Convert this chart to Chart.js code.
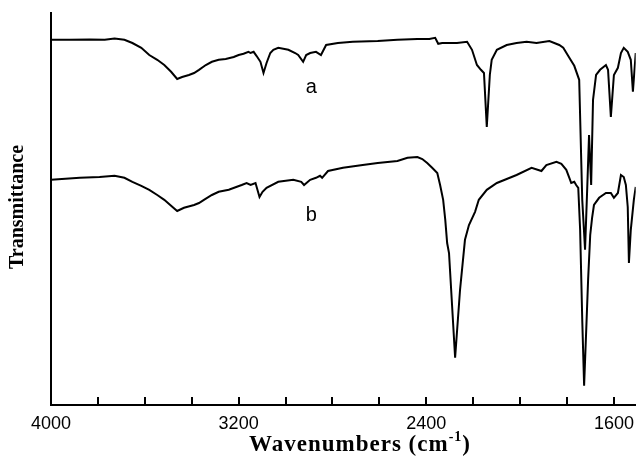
<!DOCTYPE html>
<html>
<head>
<meta charset="utf-8">
<script src="https://cdn.jsdelivr.net/npm/chart.js@4.4.1/dist/chart.umd.min.js"></script>
<style>
    html, body { margin: 0; padding: 0; background: #fff; }
    #wrap { width: 642px; height: 462px; }
</style>
</head>
<body>
<div id="wrap"><canvas id="irChart"></canvas></div>
<script>
// spectrum a
const wavenumbersA = [4000, 3920, 3835, 3771, 3729, 3687, 3653, 3615, 3581, 3547, 3517, 3488, 3462, 3441, 3412, 3390,
    3369, 3340, 3314, 3285, 3255, 3221, 3200, 3179, 3158, 3149, 3136, 3124, 3107, 3094, 3081, 3065, 3052, 3031,
    2988, 2959, 2946, 2925, 2912, 2895, 2870, 2849, 2827, 2777, 2713, 2607, 2523, 2438, 2387, 2362, 2349, 2332,
    2269, 2226, 2205, 2184, 2167, 2154, 2142, 2129, 2121, 2099, 2057, 2015, 1972, 1930, 1875, 1833, 1816, 1790,
    1769, 1748, 1735, 1723, 1714, 1706, 1697, 1689, 1676, 1659, 1634, 1625, 1613, 1600, 1583, 1570, 1558, 1541,
    1528, 1519, 1507];
const transmittanceA = [91.3, 91.3, 91.4, 91.3, 91.6, 91.3, 90.5, 89.3, 87.5, 86.3, 85.0, 83.3, 81.5, 82.0, 82.5, 83.0,
    83.8, 85.0, 85.8, 86.3, 86.5, 87.0, 87.5, 87.8, 88.3, 88.0, 88.3, 87.3, 85.8, 83.0, 85.5, 88.0, 88.8, 89.3,
    88.8, 88.0, 87.5, 85.8, 87.5, 88.0, 88.3, 87.5, 90.0, 90.5, 90.8, 91.0, 91.3, 91.5, 91.5, 91.8, 90.3, 90.5,
    90.5, 90.8, 88.8, 85.0, 83.8, 83.0, 69.5, 82.5, 86.3, 88.8, 90.0, 90.5, 90.8, 90.5, 91.0, 90.0, 89.3, 86.8,
    84.8, 81.3, 51.3, 38.8, 53.8, 67.5, 55.0, 76.3, 82.5, 83.8, 85.0, 83.8, 72.0, 82.5, 84.3, 88.0, 89.3, 88.3,
    86.3, 78.3, 88.0];

// spectrum b
const wavenumbersB = [4000, 3877, 3793, 3729, 3687, 3653, 3615, 3581, 3547, 3517, 3488, 3462, 3433, 3390, 3369, 3348,
    3314, 3285, 3242, 3187, 3166, 3149, 3128, 3111, 3098, 3081, 3031, 2967, 2933, 2921, 2895, 2870, 2853, 2844,
    2819, 2755, 2671, 2607, 2523, 2480, 2438, 2417, 2396, 2375, 2353, 2341, 2328, 2319, 2311, 2303, 2277, 2256,
    2235, 2218, 2192, 2176, 2142, 2099, 2057, 2015, 1951, 1909, 1888, 1845, 1824, 1803, 1790, 1782, 1769, 1761,
    1752, 1744, 1735, 1727, 1718, 1710, 1701, 1693, 1685, 1663, 1634, 1613, 1600, 1583, 1570, 1558, 1549, 1541,
    1536, 1528, 1515, 1507];
const transmittanceB = [56.3, 56.8, 57.0, 57.3, 56.8, 55.8, 54.8, 53.8, 52.5, 51.3, 49.8, 48.5, 49.3, 50.0, 50.5, 51.3,
    52.5, 53.3, 53.8, 55.0, 55.5, 55.0, 55.5, 52.0, 53.3, 54.3, 55.8, 56.3, 55.8, 55.0, 56.3, 56.8, 57.3, 56.8,
    58.5, 59.3, 60.0, 60.5, 61.0, 61.8, 62.0, 61.5, 60.5, 59.3, 58.0, 55.0, 51.3, 46.3, 40.5, 38.0, 11.8, 28.8,
    41.3, 45.0, 48.3, 51.3, 53.8, 55.5, 56.5, 57.5, 59.3, 58.5, 60.0, 60.8, 60.3, 58.8, 56.8, 55.5, 55.8, 55.0,
    54.3, 43.8, 21.3, 4.8, 18.8, 31.3, 42.5, 46.8, 50.0, 51.8, 53.0, 53.0, 51.8, 53.0, 57.5, 57.0, 55.0, 49.5,
    35.5, 43.8, 51.3, 54.5];

const xTickValues = [4000, 3800, 3600, 3400, 3200, 3000, 2800, 2600, 2400, 2200, 2000, 1800, 1600];
const xTickLabels = ['4000', '', '', '', '3200', '', '', '', '2400', '', '', '', '1600'];

const traceNames = ['a', 'b'];
const traceNameX = [2890, 2890];
const traceNameY = [79.3, 47.5];

const toPoints = (xs, ys) => xs.map((x, i) => ({x: x, y: ys[i]}));

// inward tick marks, trace names and axis titles
const decorations = {
    id: 'decorations',
    afterDraw(chart) {
        const {ctx, chartArea, scales} = chart;
        const xs = scales.x, ys = scales.y;
        ctx.save();
        ctx.strokeStyle = '#000';
        ctx.lineWidth = 2;
        xTickValues.forEach(v => {
            const px = Math.round(xs.getPixelForValue(v));
            ctx.beginPath();
            ctx.moveTo(px, chartArea.bottom);
            ctx.lineTo(px, chartArea.bottom - 8);
            ctx.stroke();
        });

        ctx.fillStyle = '#000';
        ctx.font = '20px "Liberation Sans"';
        ctx.textAlign = 'center';
        ctx.textBaseline = 'middle';
        traceNames.forEach((name, i) => {
            ctx.fillText(name, xs.getPixelForValue(traceNameX[i]), ys.getPixelForValue(traceNameY[i]));
        });

        // y title
        ctx.save();
        ctx.translate(18, (chartArea.top + chartArea.bottom) / 2 - 2);
        ctx.rotate(-Math.PI / 2);
        ctx.font = 'bold 20px "Liberation Serif"';
        ctx.fillText('Transmittance', 0, 0);
        ctx.restore();

        // x title with superscript
        const main = 'Wavenumbers (cm';
        const sup = '-1';
        const close = ')';
        ctx.textBaseline = 'alphabetic';
        ctx.textAlign = 'left';
        ctx.letterSpacing = '1px';
        ctx.font = 'bold 23px "Liberation Serif"';
        const wMain = ctx.measureText(main).width;
        const wClose = ctx.measureText(close).width;
        ctx.font = 'bold 14px "Liberation Serif"';
        const wSup = ctx.measureText(sup).width;
        let x0 = 360 - (wMain + wSup + wClose) / 2;
        const base = 451;
        ctx.font = 'bold 23px "Liberation Serif"';
        ctx.fillText(main, x0, base);
        ctx.font = 'bold 14px "Liberation Serif"';
        ctx.fillText(sup, x0 + wMain, base - 10);
        ctx.font = 'bold 23px "Liberation Serif"';
        ctx.fillText(close, x0 + wMain + wSup, base);
        ctx.restore();
    }
};

const ctx = document.getElementById('irChart').getContext('2d');
const chart = new Chart(ctx, {
    type: 'line',
    data: {
        datasets: [{
            label: 'a',
            data: toPoints(wavenumbersA, transmittanceA),
            borderColor: '#000',
            borderWidth: 2,
            pointRadius: 0,
            tension: 0,
            fill: false
        }, {
            label: 'b',
            data: toPoints(wavenumbersB, transmittanceB),
            borderColor: '#000',
            borderWidth: 2,
            pointRadius: 0,
            tension: 0,
            fill: false
        }]
    },
    options: {
        responsive: true,
        maintainAspectRatio: false,
        animation: false,
        layout: {padding: {top: 13, right: 2, left: 0, bottom: 0}},
        plugins: {
            legend: {display: false},
            tooltip: {enabled: false}
        },
        scales: {
            x: {
                type: 'linear',
                reverse: true,
                min: 1507,
                max: 4000,
                afterBuildTicks: scale => {
                    scale.ticks = xTickValues.map(v => ({value: v}));
                },
                afterFit: scale => { scale.height = 57; },
                ticks: {
                    autoSkip: false,
                    maxRotation: 0,
                    padding: 8,
                    color: '#000',
                    font: {family: 'Liberation Sans', size: 18},
                    callback: (value) => {
                        const i = xTickValues.indexOf(value);
                        return i >= 0 ? xTickLabels[i] : '';
                    }
                },
                grid: {display: true, drawOnChartArea: false, drawTicks: false},
                border: {display: true, color: '#000', width: 2}
            },
            y: {
                min: 0,
                max: 98,
                afterFit: scale => { scale.width = 51; },
                ticks: {display: false},
                grid: {display: false},
                border: {display: true, color: '#000', width: 2}
            }
        }
    },
    plugins: [decorations]
});
</script>
</body>
</html>
